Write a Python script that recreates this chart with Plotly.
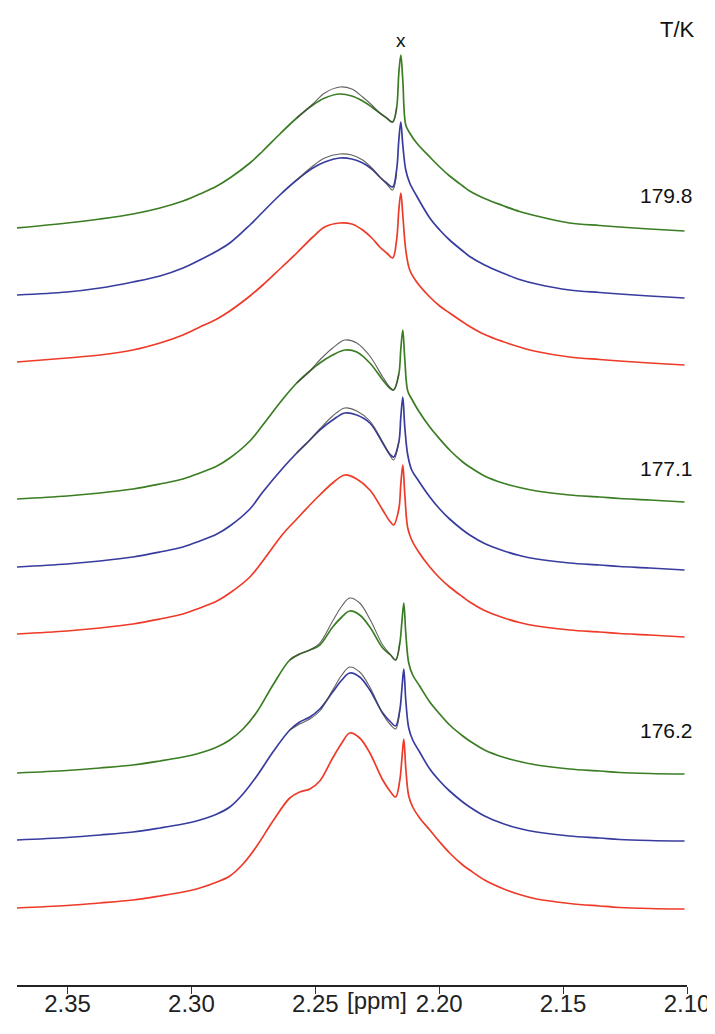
import plotly.graph_objects as go

# chemical shift grids (ppm) for the three temperature groups
X_G1 = [2.3705, 2.3502, 2.3369, 2.3236, 2.3127, 2.3034, 2.2966, 2.2897, 2.2845, 2.2764, 2.2712,
        2.2643, 2.2575, 2.2510, 2.2462, 2.2401, 2.2353, 2.2309, 2.2272, 2.2240, 2.2212, 2.2188,
        2.2172, 2.2163, 2.2155, 2.2147, 2.2135, 2.2119, 2.2091, 2.2038, 2.1998, 2.1958, 2.1905,
        2.1877, 2.1817, 2.1744, 2.1676, 2.1607, 2.1474, 2.1353, 2.1272, 2.1151, 2.1010]
X_G2 = [2.3705, 2.3502, 2.3369, 2.3236, 2.3127, 2.3034, 2.2966, 2.2897, 2.2845, 2.2764, 2.2712,
        2.2631, 2.2575, 2.2522, 2.2482, 2.2430, 2.2381, 2.2333, 2.2280, 2.2228, 2.2200, 2.2184,
        2.2163, 2.2155, 2.2147, 2.2139, 2.2127, 2.2111, 2.2083, 2.2038, 2.1998, 2.1958, 2.1905,
        2.1877, 2.1817, 2.1744, 2.1676, 2.1607, 2.1474, 2.1353, 2.1272, 2.1151, 2.1010]
X_G3 = [2.3705, 2.3502, 2.3369, 2.3236, 2.3127, 2.3034, 2.2966, 2.2897, 2.2845, 2.2792, 2.2736,
        2.2671, 2.2603, 2.2563, 2.2522, 2.2482, 2.2430, 2.2393, 2.2361, 2.2321, 2.2280, 2.2228,
        2.2196, 2.2176, 2.2159, 2.2151, 2.2143, 2.2135, 2.2123, 2.2107, 2.2079, 2.2038, 2.1998,
        2.1958, 2.1905, 2.1877, 2.1817, 2.1744, 2.1676, 2.1607, 2.1474, 2.1353, 2.1272, 2.1151,
        2.1010]

# experimental spectra (intensity above own baseline)
GREEN_1 = [0, 5, 9, 14, 20, 27, 34, 42, 50, 65, 77, 94, 110, 123, 130, 134, 132, 127, 121, 115,
           110, 106, 120, 155, 173, 148, 103, 95, 85, 71, 61, 52, 42, 37, 29.5, 22.5, 16.5, 12, 5, 2.5,
           1, -1, -3]
BLUE_1 = [0, 3, 7, 13, 19, 27, 35, 44, 52, 70, 83, 100, 115, 127, 133, 137, 136, 132, 126, 118,
          112, 108, 125, 155, 173, 150, 125, 112, 99, 77, 65, 55, 44, 38.5, 30, 22, 15.5, 11, 5, 2.5,
          1, -1, -3]
RED_1 = [0, 4, 7, 12, 19, 27, 35, 43, 51, 66, 77, 93, 109, 125, 135, 139, 138, 132, 124, 115,
         109, 104, 122, 152, 169, 147, 112, 92, 80, 65, 56, 49, 40, 35.5, 27.5, 20.5, 15, 10.5, 5, 2.5,
         1, -1, -3]
GREEN_2 = [0, 3, 6, 10, 15, 20, 26, 33, 41, 58, 74, 100, 116, 128, 136, 144, 149, 147, 136, 119,
           111, 109, 125, 150, 169, 140, 108, 100, 88, 72, 60, 49, 37, 32, 23, 16, 11.5, 8, 4, 2,
           0.5, -1, -3]
BLUE_2 = [0, 3, 6, 10, 15, 20, 26, 33, 41, 58, 75, 99, 114, 127, 137, 147, 154, 152, 144, 124,
          113, 110, 125, 150, 170, 140, 112, 97, 86, 70, 58, 48, 37, 32, 23.5, 16.5, 11.5, 8, 4, 2,
          0.5, -1, -3]
RED_2 = [0, 3, 6, 10, 15, 20, 26, 33, 41, 57, 73, 100, 115, 129, 139, 151, 159, 155, 144, 124,
         113, 109, 125, 150, 169, 140, 106, 94, 82, 67, 56, 47, 37, 32, 23.5, 16.5, 11.5, 8, 4, 2,
         0.5, -1, -3]
GREEN_3 = [0, 2.5, 5, 8, 12, 16, 20, 26, 33, 44, 61, 88, 113, 119, 123, 128, 146, 156, 162, 158,
           146, 125, 118, 113, 130, 150, 170, 140, 110, 98, 87, 71, 59, 48, 37, 32, 23, 16, 11.5,
           8, 4, 2, 0.5, -0.5, -1]
BLUE_3 = [0, 2.5, 5, 8, 12, 16, 20, 26, 33, 46, 64, 88, 110, 118, 123, 131, 148, 160, 167, 163,
          150, 127, 118, 114, 130, 150, 171, 140, 112, 100, 88, 71, 59, 49, 38, 33, 24, 16.5, 11.5,
          8, 4, 2, 0.5, -0.5, -1]
RED_3 = [0, 2.5, 5, 8, 12, 16, 20, 26, 32, 44, 62, 87, 110, 116, 119, 127, 150, 165, 175, 170,
         155, 128, 116, 111, 128, 148, 169, 140, 112, 101, 90, 78, 66, 55, 43, 38, 28, 19.5, 13.5,
         9, 4.5, 2, 0.5, -0.5, -1]

# simulated (fit) lines where they separate from the data near the broad maximum
FIT_X_G1 = [2.2575, 2.2510, 2.2462, 2.2401, 2.2353, 2.2309, 2.2272, 2.2240, 2.2212, 2.2188, 2.2172]
FIT_GREEN_1 = [110, 124, 135, 141, 139, 131, 123, 115, 110, 106, 120]
FIT_BLUE_1 = [115, 129, 137, 141, 140, 135, 127, 118, 111, 105, 122]
FIT_X_G2 = [2.2575, 2.2522, 2.2482, 2.2430, 2.2381, 2.2333, 2.2280, 2.2228, 2.2200, 2.2184, 2.2163]
FIT_GREEN_2 = [116, 128, 139, 151, 159, 156, 143, 122, 112, 109, 125]
FIT_BLUE_2 = [114, 127, 138, 151, 159, 156, 146, 125, 112, 107, 125]
FIT_X_G3 = [2.2603, 2.2563, 2.2522, 2.2482, 2.2430, 2.2393, 2.2361, 2.2321, 2.2280, 2.2228,
            2.2196, 2.2176, 2.2159]
FIT_GREEN_3 = [113, 119, 123, 130, 152, 167, 175, 170, 154, 128, 118, 113, 130]
FIT_BLUE_3 = [110, 116, 121, 129, 150, 165, 173, 168, 153, 126, 115, 111, 130]

TEMPS = ["179.8", "177.1", "176.2"]
TICKS = [2.35, 2.30, 2.25, 2.20, 2.15, 2.10]
TICK_TEXT = ["2.35", "2.30", "2.25", "2.20", "2.15", "2.10"]

# vertical stacking offsets
OFFSETS = [757, 690, 623, 486, 418, 351, 212, 145, 77]

GREEN = "#3a7d23"
BLUE = "#383c9e"
RED = "#ee3a28"
FIT_COL = "rgba(70,70,70,0.85)"
FONT = "Liberation Sans, Arial, sans-serif"

groups = [
    (X_G1, [GREEN_1, BLUE_1, RED_1], FIT_X_G1, [FIT_GREEN_1, FIT_BLUE_1]),
    (X_G2, [GREEN_2, BLUE_2, RED_2], FIT_X_G2, [FIT_GREEN_2, FIT_BLUE_2]),
    (X_G3, [GREEN_3, BLUE_3, RED_3], FIT_X_G3, [FIT_GREEN_3, FIT_BLUE_3]),
]
colors = [GREEN, BLUE, RED]

fig = go.Figure()
k = 0
for xs, spectra, fx, fits in groups:
    offs = OFFSETS[k:k + 3]
    for spec, col, off in zip(spectra, colors, offs):
        fig.add_trace(go.Scatter(x=xs, y=[v + off for v in spec], mode="lines",
                                 line=dict(color=col, width=1.7, shape="spline", smoothing=1.0),
                                 hoverinfo="skip"))
    for fit, off in zip(fits, offs[:2]):
        fig.add_trace(go.Scatter(x=fx, y=[v + off for v in fit], mode="lines",
                                 line=dict(color=FIT_COL, width=1.1, shape="spline", smoothing=1.0),
                                 hoverinfo="skip"))
    k += 3

annotations = [
    dict(x=2.2155, y=945, xref="x", yref="y", text="x", showarrow=False,
         font=dict(size=19, color="#111")),
    dict(x=1.015, y=956, xref="paper", yref="y", text="T/K", showarrow=False,
         xanchor="right", font=dict(size=22, color="#111")),
    dict(x=2.225, y=-0.016, xref="x", yref="paper", text="[ppm]", showarrow=False,
         yanchor="middle", font=dict(size=24, color="#222")),
]
for t, yy in zip(TEMPS, [790, 517, 255]):
    annotations.append(dict(x=1.012, y=yy, xref="paper", yref="y", text=t, showarrow=False,
                            xanchor="right", font=dict(size=21, color="#111")))

# page body has an 8px margin, so the figure is shifted and trimmed to fit the window
fig.update_layout(
    width=707, height=1026,
    margin=dict(l=9, r=28, t=0, b=49),
    paper_bgcolor="white", plot_bgcolor="white",
    showlegend=False,
    font=dict(family=FONT, color="#222"),
    xaxis=dict(range=[2.3704, 2.10], tickvals=TICKS, ticktext=TICK_TEXT,
               showgrid=False, zeroline=False, showline=True, linecolor="#222", linewidth=1.5,
               ticks="outside", ticklen=7, tickcolor="#333", tickwidth=1,
               ticklabelstandoff=-11,
               tickfont=dict(size=24, color="#222")),
    yaxis=dict(range=[0, 977], visible=False, fixedrange=True),
    annotations=annotations,
)

fig.write_html("out.html")
